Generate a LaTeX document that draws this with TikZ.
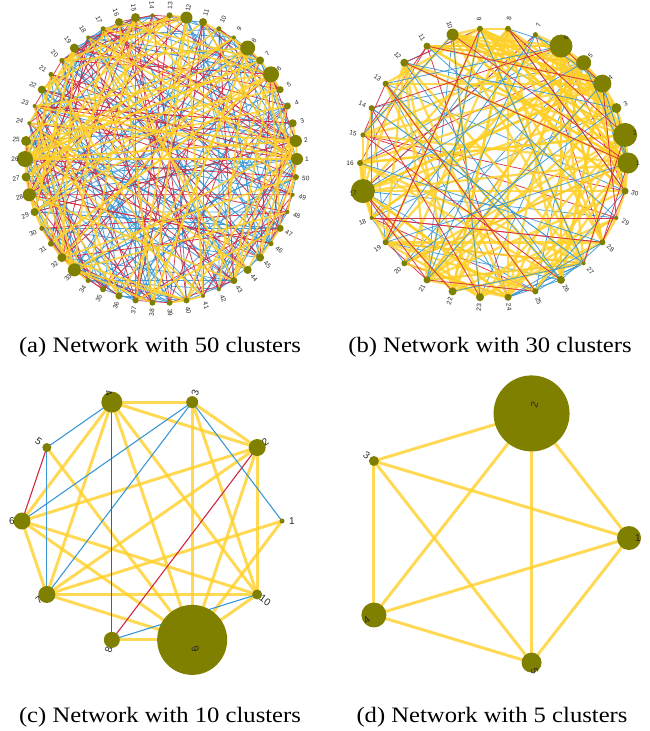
\documentclass[tikz,border=0pt]{standalone}
\usepackage{fontspec}
\setmainfont{Liberation Serif}
\newfontfamily\lblfont{Liberation Sans}
\definecolor{nodeolive}{RGB}{128,128,0}
\definecolor{eyel}{RGB}{255,208,40}
\definecolor{ered}{RGB}{212,38,62}
\definecolor{eblue}{RGB}{58,150,212}
\pgfdeclarelayer{edges}
\pgfsetlayers{edges,main}
\tikzset{
 vert/.style={circle,fill=nodeolive,draw=none,inner sep=0pt,minimum size=#1},
 lblS/.style={font=\lblfont\fontsize{6.5}{7}\selectfont,text=black!85,inner sep=0pt},
 lblL/.style={font=\lblfont\fontsize{10}{11}\selectfont,text=black!85,inner sep=0pt},
 thinB/.style={draw=eblue,line width=0.8pt,opacity=0.9},
 thinR/.style={draw=ered,line width=0.8pt,opacity=0.9},
 thinBc/.style={draw=eblue,line width=1.1pt},
 thinRc/.style={draw=ered,line width=1.1pt},
 yelA/.style={draw=eyel,line width=1.7pt,opacity=0.85},
 yelB/.style={draw=eyel,line width=2.3pt,opacity=0.8},
 yelC/.style={draw=eyel,line width=3pt,opacity=0.8},
 captxt/.style={font=\fontsize{22}{26}\selectfont,inner sep=0pt,anchor=base,xscale=1.12}
}
\begin{document}
\begin{tikzpicture}[x=1pt,y=-1pt]
\useasboundingbox (0,0) rectangle (649,731);

% ---------- panel (a): 50 clusters ----------
\foreach \r [count=\i] in {6,6,4,3.5,3.5,8,4,7.5,2,2.5,4,6,3,2,4.5,4,2.5,2,4.5,2.5,2.5,4,2,2,5,8,4.5,6.5,4,2.5,3,4.5,6.5,2.5,3,3.5,3,3,3,3,2,2,3.5,4,4,2.5,3.5,2,2,3}{
  \pgfmathsetmacro\t{(\i-1)*7.2}
  \pgfmathsetmacro\px{161+136*cos(\t)}
  \pgfmathsetmacro\py{159-144*sin(\t)}
  \pgfmathsetmacro\lx{161+146*cos(\t)}
  \pgfmathsetmacro\ly{159-154*sin(\t)}
  \pgfmathsetmacro\rot{cos(\t)<-0.001 ? \t+180 : \t}
  \pgfmathsetmacro\d{2*\r}
  \node[vert=\d pt] (a\i) at (\px,\py) {};
  \node[lblS,rotate=\rot] (al\i) at (\lx,\ly) {\i};
}

% ---------- panel (b): 30 clusters ----------
\foreach \r [count=\i] in {10.5,12,5,9,7.5,11.5,2.5,3,3,6,3.5,4,3,3,2.5,3,12,2,3,3,3.5,4,4,3.5,3,4,2,3,2,3.5}{
  \pgfmathsetmacro\t{(\i-1)*12}
  \pgfmathsetmacro\px{494+134*cos(\t)}
  \pgfmathsetmacro\py{163-135*sin(\t)}
  \pgfmathsetmacro\lx{494+144*cos(\t)}
  \pgfmathsetmacro\ly{163-145*sin(\t)}
  \pgfmathsetmacro\rot{cos(\t)<-0.001 ? \t+180 : \t}
  \pgfmathsetmacro\d{2*\r}
  \node[vert=\d pt] (b\i) at (\px,\py) {};
  \node[lblS,rotate=\rot] (bl\i) at (\lx,\ly) {\i};
}

% ---------- panel (c): 10 clusters ----------
\foreach \r [count=\i] in {2.5,8.5,6,10.5,4.5,8.5,8.5,8,35,5}{
  \pgfmathsetmacro\t{(\i-1)*36}
  \pgfmathsetmacro\px{152+130*cos(\t)}
  \pgfmathsetmacro\py{521-125*sin(\t)}
  \pgfmathsetmacro\lx{152+140*cos(\t)}
  \pgfmathsetmacro\ly{521-135*sin(\t)}
  \pgfmathsetmacro\rot{cos(\t)<-0.001 ? \t+180 : \t}
  \pgfmathsetmacro\d{2*\r}
  \node[vert=\d pt] (c\i) at (\px,\py) {};
  \node[lblL,rotate=\rot] (cl\i) at (\lx,\ly) {\i};
}

% ---------- panel (d): 5 clusters ----------
\foreach \r [count=\i] in {12,38,5,12.5,10}{
  \pgfmathsetmacro\t{(\i-1)*72}
  \pgfmathsetmacro\px{488+141*cos(\t)}
  \pgfmathsetmacro\py{538-131*sin(\t)}
  \pgfmathsetmacro\lx{488+150*cos(\t)}
  \pgfmathsetmacro\ly{538-140*sin(\t)}
  \pgfmathsetmacro\rot{cos(\t)<-0.001 ? \t+180 : \t}
  \pgfmathsetmacro\d{2*\r}
  \node[vert=\d pt] (d\i) at (\px,\py) {};
  \node[lblL,rotate=\rot] (dl\i) at (\lx,\ly) {\i};
}

\begin{pgfonlayer}{edges}
\pgfmathsetseed{1234}
% (a) thin edges
\foreach \k in {1,...,165}{
  \pgfmathtruncatemacro\ea{random(1,50)}
  \pgfmathtruncatemacro\eb{mod(\ea-1+random(2,48),50)+1}
  \draw[thinB] (a\ea.center) -- (a\eb.center);
}
\foreach \k in {1,...,100}{
  \pgfmathtruncatemacro\ea{random(1,50)}
  \pgfmathtruncatemacro\eb{mod(\ea-1+random(2,48),50)+1}
  \draw[thinR] (a\ea.center) -- (a\eb.center);
}
% (a) yellow edges
\foreach \h/\n in {26/8,33/7,6/8,8/7,12/5,28/4,1/5,2/4,25/3,32/3,15/3,19/3,11/2,44/3,43/3,45/2,47/2,36/2,40/2,22/2,27/2,16/2,38/2}{
  \foreach \k in {1,...,\n}{
    \pgfmathtruncatemacro\eb{mod(\h-1+random(2,48),50)+1}
    \draw[yelA] (a\h.center) -- (a\eb.center);
  }
}
\foreach \p/\q in {25/26,26/27,27/28,28/29,29/30,30/31,31/32,32/33,33/34,5/6,6/7,7/8,1/2,2/3,39/40,40/41,12/13}{
  \draw[yelA] (a\p.center) -- (a\q.center);
}

% (b) edges
\foreach \k in {1,...,28}{
  \pgfmathtruncatemacro\ea{random(1,30)}
  \pgfmathtruncatemacro\eb{mod(\ea-1+random(2,28),30)+1}
  \draw[thinB] (b\ea.center) -- (b\eb.center);
}
\foreach \k in {1,...,20}{
  \pgfmathtruncatemacro\ea{random(1,30)}
  \pgfmathtruncatemacro\eb{mod(\ea-1+random(2,28),30)+1}
  \draw[thinR] (b\ea.center) -- (b\eb.center);
}
\foreach \h/\n in {17/12,1/12,2/12,6/12,4/10,5/9,10/8,12/7,3/4,8/5,9/4,21/5,22/3,23/3,24/4,26/3,28/3,19/3,13/3,16/3}{
  \foreach \k in {1,...,\n}{
    \pgfmathtruncatemacro\eb{mod(\h-1+random(2,28),30)+1}
    \draw[yelB] (b\h.center) -- (b\eb.center);
  }
}
\foreach \p/\q in {1/2,2/3,3/4,4/5,5/6,6/7,1/30,30/29,28/29,16/17,17/18,9/10,8/9}{
  \draw[yelB] (b\p.center) -- (b\q.center);
}
\foreach \k in {1,...,28}{
  \pgfmathtruncatemacro\ea{random(1,30)}
  \pgfmathtruncatemacro\eb{mod(\ea-1+random(2,28),30)+1}
  \draw[thinB] (b\ea.center) -- (b\eb.center);
}
\foreach \k in {1,...,20}{
  \pgfmathtruncatemacro\ea{random(1,30)}
  \pgfmathtruncatemacro\eb{mod(\ea-1+random(2,28),30)+1}
  \draw[thinR] (b\ea.center) -- (b\eb.center);
}

% (c) edges
\foreach \p/\q in {4/3,4/2,4/6,4/7,4/9,4/10,3/2,3/9,3/10,2/6,2/7,2/9,2/10,1/7,1/9,6/7,6/9,6/10,5/9,7/10,7/9,8/9,10/9}{
  \draw[yelC] (c\p.center) -- (c\q.center);
}
\foreach \p/\q in {4/5,3/6,3/7,3/1,5/7,8/10}{
  \draw[thinBc] (c\p.center) -- (c\q.center);
}
\foreach \p/\q in {4/8,6/5,8/2}{
  \draw[thinRc] (c\p.center) -- (c\q.center);
}

% (d) edges
\foreach \p/\q in {1/2,1/3,1/4,1/5,2/3,2/4,2/5,3/4,3/5,4/5}{
  \draw[yelC] (d\p.center) -- (d\q.center);
}
\end{pgfonlayer}

% captions
\node[captxt] (capa) at (160,352) {(a) Network with 50 clusters};
\node[captxt] (capb) at (490,352) {(b) Network with 30 clusters};
\node[captxt] (capc) at (160,722) {(c) Network with 10 clusters};
\node[captxt] (capd) at (492,722) {(d) Network with 5 clusters};
\end{tikzpicture}
\end{document}
